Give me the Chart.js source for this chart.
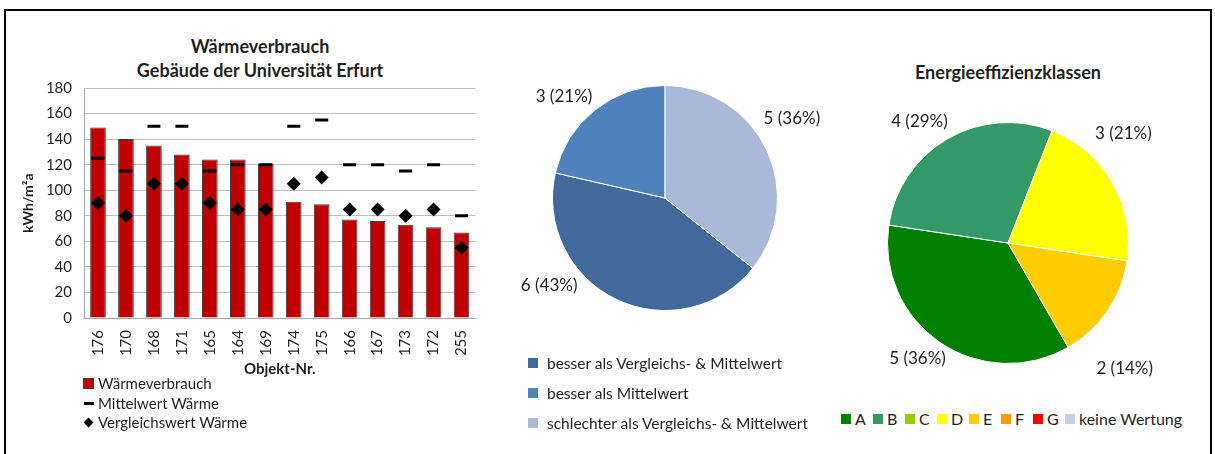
<!DOCTYPE html>
<html>
<head>
<meta charset="utf-8">
<script src="https://cdn.jsdelivr.net/npm/chart.js@4"></script>
<style>
  body { margin: 0; background: #fff; width: 1215px; height: 454px; position: relative; overflow: hidden; font-family: Lato, "Open Sans", sans-serif; color: #1f1f1f; }
  .rahmen { position: absolute; left: 4px; top: 9px; width: 1204px; height: 460px; border: 2px solid #000; border-bottom: none; }
  .box { position: absolute; }
  .titel { position: absolute; font-weight: bold; font-size: 18px; text-align: center; line-height: 24px; white-space: nowrap; }
  .legende { position: absolute; font-size: 15px; white-space: nowrap; }
  .legende div { display: flex; align-items: center; }
  .sym { display: inline-block; margin-right: 4px; }
  .eintrag { display: inline-flex; align-items: center; min-width: 32px; }
</style>
</head>
<body>
<div class="rahmen"></div>

<div class="titel" style="left:110px; top:34px; width:300px;">Wärmeverbrauch<br>Gebäude der Universität Erfurt</div>
<div class="box" style="left:10px; top:67px; width:475px; height:311px;"><canvas id="balken"></canvas></div>
<div class="legende" id="legBalken" style="left:83px; top:374px; line-height:19.5px;"></div>

<div class="box" style="left:495px; top:38px; width:340px; height:320px;"><canvas id="vergleich"></canvas></div>
<div class="legende" id="legVergleich" style="left:528px; top:348px; font-size:15.5px; line-height:30px;"></div>

<div class="titel" style="left:878px; top:60px; width:260px;">Energieeffizienzklassen</div>
<div class="box" style="left:858px; top:50px; width:300px; height:350px;"><canvas id="klassen"></canvas></div>
<div class="legende" id="legKlassen" style="left:841px; top:409px; font-size:16px; line-height:20px;"></div>

<script>
// DATEN
const objekte = ['176', '170', '168', '171', '165', '164', '169', '174', '175', '166', '167', '173', '172', '255'];
const waermeverbrauch = [149, 140, 135, 128, 124, 124, 121, 91, 89, 77, 76, 73, 71, 67];
const mittelwert = [125, 115, 150, 150, 115, 120, 120, 150, 155, 120, 120, 115, 120, 80];
const vergleichswert = [90, 80, 105, 105, 90, 85, 85, 105, 110, 85, 85, 80, 85, 55];
const yMin = 0, yMax = 180, yStep = 20;

const vergleichKategorien = ['besser als Vergleichs- & Mittelwert', 'besser als Mittelwert', 'schlechter als Vergleichs- & Mittelwert'];
const vergleichAnzahl = [6, 3, 5];
const vergleichFarben = ['#41699C', '#4F81BD', '#A9B9D7'];

const klassen = ['A', 'B', 'C', 'D', 'E', 'F', 'G', 'keine Wertung'];
const klassenAnzahl = [5, 4, 0, 3, 2, 0, 0, 0];
const klassenFarben = ['#008000', '#339966', '#99CC00', '#FFFF00', '#FFCC00', '#FF9900', '#FF0000', '#C5CFE3'];

const SCHRIFT = 'Lato, "Open Sans", sans-serif';
Chart.defaults.font.family = SCHRIFT;
Chart.defaults.color = '#1f1f1f';

// Beschriftungen außerhalb der Tortenstücke
const aussenLabels = {
    id: 'aussenLabels',
    afterDatasetsDraw(chart, args, opts) {
        const ctx = chart.ctx;
        const meta = chart.getDatasetMeta(0);
        const werte = chart.data.datasets[0].data;
        const summe = werte.reduce((a, b) => a + b, 0);
        ctx.save();
        ctx.font = '17px ' + SCHRIFT;
        ctx.fillStyle = '#1f1f1f';
        ctx.textAlign = 'center';
        ctx.textBaseline = 'middle';
        meta.data.forEach(function(arc, i) {
            if (!werte[i]) return;
            const w = opts.winkel[i] * Math.PI / 180;
            const d = arc.outerRadius * opts.abstand[i];
            const x = arc.x + Math.sin(w) * d;
            const y = arc.y - Math.cos(w) * d;
            ctx.fillText(werte[i] + ' (' + Math.round(werte[i] / summe * 100) + '%)', x, y);
        });
        ctx.restore();
    }
};

// BALKENDIAGRAMM
new Chart(document.getElementById('balken'), {
    data: {
        labels: objekte,
        datasets: [
            {
                type: 'line',
                label: 'Mittelwert Wärme',
                data: mittelwert,
                showLine: false,
                pointStyle: 'line',
                pointRadius: 6.5,
                pointBorderWidth: 3,
                pointBorderColor: '#000',
                order: 1
            },
            {
                type: 'line',
                label: 'Vergleichswert Wärme',
                data: vergleichswert,
                showLine: false,
                pointStyle: 'rectRot',
                pointRadius: 7,
                pointBackgroundColor: '#000',
                pointBorderColor: '#000',
                pointBorderWidth: 0,
                order: 0
            },
            {
                type: 'bar',
                label: 'Wärmeverbrauch',
                data: waermeverbrauch,
                backgroundColor: '#C00000',
                borderColor: '#3a3a3a',
                borderWidth: 1,
                barPercentage: 0.56,
                categoryPercentage: 1,
                order: 2
            }
        ]
    },
    options: {
        responsive: true,
        maintainAspectRatio: false,
        animation: false,
        events: [],
        layout: { padding: { left: 8, right: 0, top: 9, bottom: 0 } },
        plugins: { legend: { display: false }, tooltip: { enabled: false } },
        scales: {
            x: {
                grid: { display: false },
                border: { color: '#A6A6A6' },
                ticks: { autoSkip: false, minRotation: 90, maxRotation: 90, font: { size: 15 }, color: '#1f1f1f', padding: 4 },
                title: { display: true, text: 'Objekt-Nr.', font: { size: 15, weight: 'bold' }, color: '#1f1f1f', padding: 0 },
                afterFit: function(s) { s.height = 60; }
            },
            y: {
                min: yMin,
                max: yMax,
                grid: { color: '#BFBFBF', drawTicks: false },
                border: { color: '#A6A6A6' },
                ticks: { stepSize: yStep, font: { size: 15 }, color: '#1f1f1f', padding: 12 },
                title: { display: true, text: 'kWh/m²a', font: { size: 14, weight: 'bold' }, color: '#1f1f1f', padding: 2 },
                afterFit: function(s) { s.width = 66; }
            }
        }
    }
});

// VERGLEICH
new Chart(document.getElementById('vergleich'), {
    type: 'pie',
    data: {
        labels: vergleichKategorien,
        datasets: [{ data: vergleichAnzahl, backgroundColor: vergleichFarben, borderColor: '#fff', borderWidth: 1 }]
    },
    options: {
        responsive: true,
        maintainAspectRatio: false,
        animation: false,
        events: [],
        rotation: 128.6,
        layout: { padding: { left: 57, right: 57, top: 47, bottom: 47 } },
        plugins: {
            legend: { display: false },
            tooltip: { enabled: false },
            aussenLabels: { winkel: [233, 315, 58], abstand: [1.29, 1.27, 1.33] }
        }
    },
    plugins: [aussenLabels]
});

// ENERGIEEFFIZIENZKLASSEN
new Chart(document.getElementById('klassen'), {
    type: 'pie',
    data: {
        labels: klassen,
        datasets: [{ data: klassenAnzahl, backgroundColor: klassenFarben, borderColor: '#fff', borderWidth: 1 }]
    },
    options: {
        responsive: true,
        maintainAspectRatio: false,
        animation: false,
        events: [],
        rotation: 150,
        layout: { padding: { left: 29, right: 29, top: 72, bottom: 36 } },
        plugins: {
            legend: { display: false },
            tooltip: { enabled: false },
            aussenLabels: { winkel: [218, 324, 0, 46.5, 137, 0, 0, 0], abstand: [1.22, 1.25, 0, 1.32, 1.42, 0, 0, 0] }
        }
    },
    plugins: [aussenLabels]
});

// LEGENDEN
let html = '';
html += '<div><span class="sym" style="width:9px;height:9px;background:#C00000;border:1px solid #3a3a3a;"></span>Wärmeverbrauch</div>';
html += '<div><span class="sym" style="width:10px;height:3px;background:#000;margin-left:1px;"></span>Mittelwert Wärme</div>';
html += '<div><span class="sym" style="width:7px;height:7px;background:#000;transform:rotate(45deg);margin:0 6px 0 2px;"></span>Vergleichswert Wärme</div>';
document.getElementById('legBalken').innerHTML = html;

html = '';
for (let i = 0; i < vergleichKategorien.length; i++) {
    html += '<div><span class="sym" style="width:10px;height:10px;background:' + vergleichFarben[i] + ';margin-right:9px;"></span>' + vergleichKategorien[i] + '</div>';
}
document.getElementById('legVergleich').innerHTML = html;

html = '<div>';
for (let i = 0; i < klassen.length; i++) {
    html += '<span class="eintrag"><span class="sym" style="width:10px;height:10px;background:' + klassenFarben[i] + ';"></span>' + klassen[i] + '</span>';
}
html += '</div>';
document.getElementById('legKlassen').innerHTML = html;
</script>
</body>
</html>
